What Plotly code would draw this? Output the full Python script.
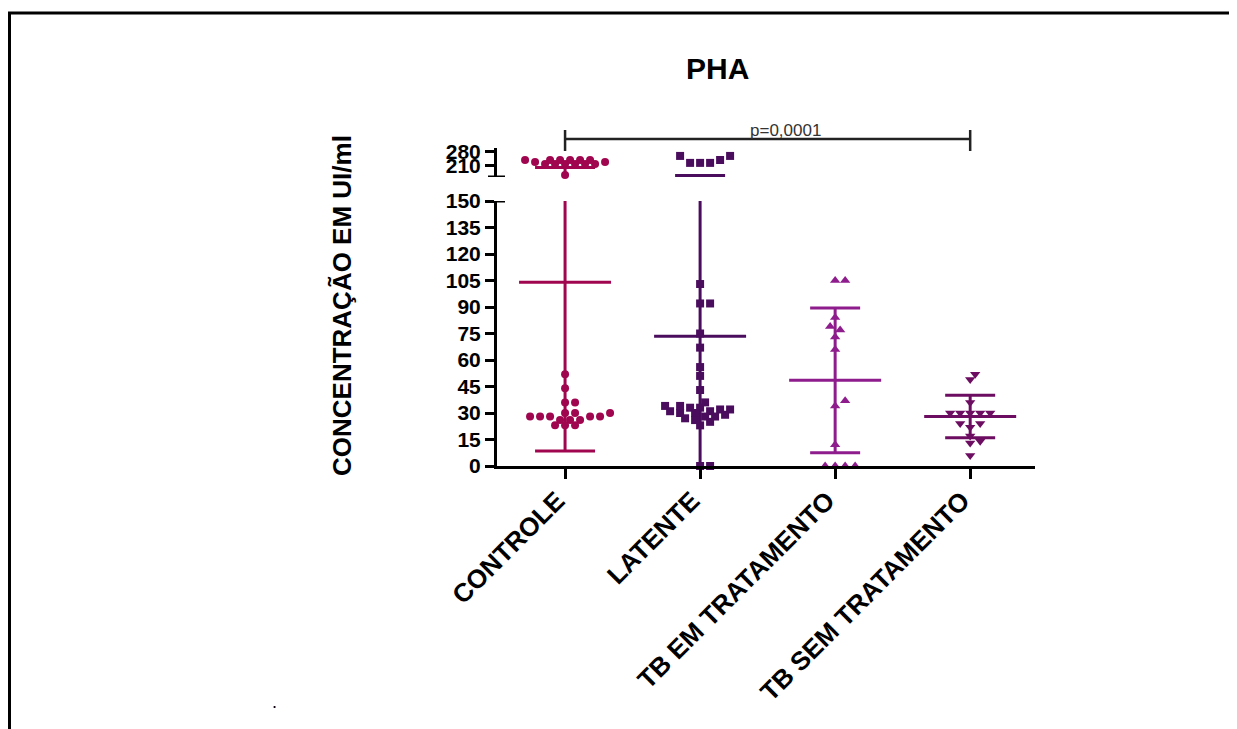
import numpy as np
import plotly.graph_objects as go

# ---------------- data ----------------
categories = ["CONTROLE", "LATENTE", "TB EM TRATAMENTO", "TB SEM TRATAMENTO"]
controle = [52, 44, 36, 36, 30, 30, 30, 28, 28, 28, 28, 28, 26, 26, 26, 23, 23, 23,
            160, 217, 217, 217, 217, 217, 217, 227, 227, 238, 238, 238, 238, 238, 238]
latente = [103, 92, 92, 75, 67, 56, 51, 43, 36, 34, 34, 33, 33, 32, 32, 31, 31, 30, 30,
           29, 28, 28, 27, 26, 25, 23, 0, 0, 223, 223, 223, 238, 259, 259]
tb_em = [105, 105, 84, 79, 77, 73, 66, 37, 34, 12, 0, 0, 0, 0]
tb_sem = [52, 49, 36, 30, 30, 30, 30, 30, 24, 24, 22, 17, 14, 13, 6]
means = [104, 73.5, 48.5, 28]
sds = [95.5, 84.5, 41, 12]
p_text = "p=0,0001"
lower_ticks = list(range(0, 151, 15))
upper_ticks = [210, 280]

# ---------------- styling ----------------
colors = ["#A0064F", "#4A0D5E", "#8E1C8C", "#6C0D61"]
symbols = ["circle", "square", "triangle-up", "triangle-down"]
msize = [8, 8, 9, 9]
swarm_gap = [6.2, 6.2, 8.5, 7.0]
swarm_upper_gap = [6.2, 10, 10, 10]
FONT = "Liberation Sans, Arial, sans-serif"

# page offset (html body margin) -> figure is drawn 8px in from the window corner
OFF = 8
W, H = 1237 - OFF, 729 - OFF


def PX(x):
    return (x - OFF) / W


def PY(y):
    return 1 - (y - OFF) / H


# pixel geometry of the axes (window pixels)
X0, X1 = 497, 1035
XR = [-0.504, 3.48]
LOW_PX = (466, 201)      # y pixel of 0 and 150
UP_PX = (177, 148)       # y pixel of 150 and 300
LOW_R = [0, 150]
UP_R = [150, 300]
pxu = (X1 - X0) / (XR[1] - XR[0])


def to_py(v):
    if v > 150:
        return UP_PX[0] - (v - UP_R[0]) * (UP_PX[0] - UP_PX[1]) / (UP_R[1] - UP_R[0])
    return LOW_PX[0] - (v - LOW_R[0]) * (LOW_PX[0] - LOW_PX[1]) / (LOW_R[1] - LOW_R[0])


def swarm(vals, step=5, mind=6.2, mind_up=6.2):
    vals = np.asarray(vals, float)
    order = np.argsort(vals, kind="stable")
    placed = []
    offs = np.zeros(len(vals))
    for i in order:
        py = to_py(vals[i])
        md = mind_up if vals[i] > 150 else mind
        k = 0
        found = None
        while found is None:
            cands = [0] if k == 0 else [k * step, -k * step]
            for dx in cands:
                if all((dx - qx) ** 2 + (py - qy) ** 2 >= md ** 2 for qx, qy in placed):
                    found = dx
                    break
            k += 1
        placed.append((found, py))
        offs[i] = found
    return offs / pxu


fig = go.Figure()
groups = [controle, latente, tb_em, tb_sem]
mean_hw = 46 / pxu
cap_hw = [30 / pxu, 25 / pxu, 25 / pxu, 25 / pxu]
for g, vals in enumerate(groups):
    c = colors[g]
    m, s = means[g], sds[g]
    lo, hi = m - s, m + s
    line = dict(color=c, width=3)
    kw = dict(showlegend=False, hoverinfo="skip", mode="lines", line=line, cliponaxis=False)
    fig.add_trace(go.Scatter(x=[g, g], y=[max(lo, 0), min(hi, 150)], yaxis="y", **kw))
    if hi > 150:
        fig.add_trace(go.Scatter(x=[g, g], y=[150, hi], yaxis="y2", **kw))
        fig.add_trace(go.Scatter(x=[g - cap_hw[g], g + cap_hw[g]], y=[hi, hi], yaxis="y2", **kw))
    else:
        fig.add_trace(go.Scatter(x=[g - cap_hw[g], g + cap_hw[g]], y=[hi, hi], yaxis="y", **kw))
    if lo >= 0:
        fig.add_trace(go.Scatter(x=[g - cap_hw[g], g + cap_hw[g]], y=[lo, lo], yaxis="y", **kw))
    fig.add_trace(go.Scatter(x=[g - mean_hw, g + mean_hw], y=[m, m], yaxis="y", **kw))
    # points
    offs = swarm(vals, mind=swarm_gap[g], mind_up=swarm_upper_gap[g])
    v = np.asarray(vals, float)
    xs = g + offs
    low = v <= 150
    mk = dict(color=c, size=msize[g], symbol=symbols[g], line=dict(width=0))
    fig.add_trace(go.Scatter(x=xs[low], y=v[low], mode="markers", marker=mk, yaxis="y",
                             name=categories[g], showlegend=False, cliponaxis=False))
    if (~low).any():
        fig.add_trace(go.Scatter(x=xs[~low], y=v[~low], mode="markers", marker=mk, yaxis="y2",
                                 name=categories[g], showlegend=False, cliponaxis=False))

axis_common = dict(showline=True, linecolor="black", linewidth=3, ticks="outside",
                   ticklen=9, tickwidth=3, tickcolor="black", showgrid=False, zeroline=False,
                   tickfont=dict(family=FONT, size=21, color="black", weight="bold"))

fig.update_layout(
    width=W, height=H,
    margin=dict(l=0, r=0, t=0, b=0),
    paper_bgcolor="white", plot_bgcolor="white",
    xaxis=dict(domain=[PX(X0), PX(X1)], range=XR, tickvals=[0, 1, 2, 3], ticktext=categories,
               tickangle=-45, showline=True, linecolor="black", linewidth=3, ticks="outside",
               ticklen=10, tickwidth=3, tickcolor="black", showgrid=False, zeroline=False,
               anchor="y", automargin=False, ticklabelshift=-8, ticklabelstandoff=-4,
               tickfont=dict(family=FONT, size=26, color="black", weight="bold")),
    yaxis=dict(domain=[PY(LOW_PX[0]), PY(LOW_PX[1])], range=LOW_R,
               tickvals=lower_ticks, anchor="x", automargin=False, **axis_common),
    yaxis2=dict(domain=[PY(UP_PX[0]), PY(UP_PX[1])], range=UP_R,
                tickvals=upper_ticks, anchor="x", automargin=False, **axis_common),
)

# break marks on the y axis
fig.add_shape(type="line", xref="paper", yref="y", x0=PX(X0), x1=PX(X0 + 8), y0=150, y1=150,
              line=dict(color="black", width=3))
fig.add_shape(type="line", xref="paper", yref="y2", x0=PX(X0 - 9), x1=PX(X0 + 8), y0=150, y1=150,
              line=dict(color="black", width=3))

# significance bracket between first and last group
fig.add_shape(type="line", xref="x", yref="paper", x0=0, x1=3, y0=PY(139), y1=PY(139),
              line=dict(color="#222", width=2.5))
for gx in (0, 3):
    fig.add_shape(type="line", xref="x", yref="paper", x0=gx, x1=gx, y0=PY(130), y1=PY(151),
                  line=dict(color="#222", width=2.5))
fig.add_annotation(x=PX(785), y=PY(130), xref="paper", yref="paper", text=p_text,
                   showarrow=False, xanchor="center", yanchor="middle",
                   font=dict(family=FONT, size=17, color="#333"))

# title and y-axis title
fig.add_annotation(x=PX(717), y=PY(69), xref="paper", yref="paper", text="PHA",
                   showarrow=False, xanchor="center", yanchor="middle",
                   font=dict(family=FONT, size=30, color="black", weight="bold"))
fig.add_annotation(x=PX(342), y=PY(306), xref="paper", yref="paper",
                   text="CONCENTRAÇÃO EM UI/ml", textangle=-90, showarrow=False,
                   xanchor="center", yanchor="middle",
                   font=dict(family=FONT, size=26, color="black", weight="bold"))
fig.add_annotation(x=PX(274), y=PY(702), xref="paper", yref="paper", text=".",
                   showarrow=False, xanchor="center", yanchor="middle",
                   font=dict(family=FONT, size=18, color="black"))

# page frame
fig.add_shape(type="line", xref="paper", yref="paper", x0=PX(8), x1=1, y0=PY(13), y1=PY(13),
              line=dict(color="black", width=3))
fig.add_shape(type="line", xref="paper", yref="paper", x0=PX(9.5), x1=PX(9.5), y0=PY(13), y1=0,
              line=dict(color="black", width=3))

fig.write_html("out.html")
